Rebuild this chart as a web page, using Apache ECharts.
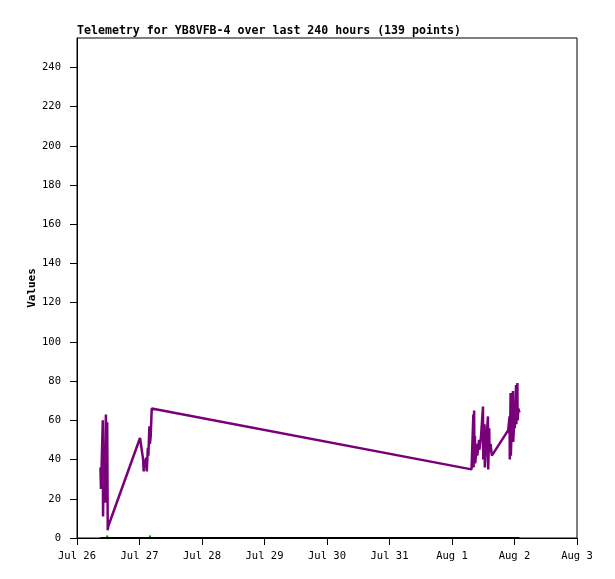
<!DOCTYPE html>
<html>
<head>
<meta charset="utf-8">
<script src="https://cdn.jsdelivr.net/npm/echarts@6/dist/echarts.min.js"></script>
<style>
  html, body { margin: 0; padding: 0; background: #fff; }
  #chart { width: 615px; height: 579px; }
</style>
</head>
<body>
<div id="chart"></div>
<script>
const titleText = "Telemetry for YB8VFB-4 over last 240 hours (139 points)";
const monthNames = ["Jan", "Feb", "Mar", "Apr", "May", "Jun", "Jul", "Aug", "Sep", "Oct", "Nov", "Dec"];

// x axis span (one tick per day)
const xStart = "2024-07-26 00:00";
const xEnd = "2024-08-03 00:00";
const yTicks = [0, 20, 40, 60, 80, 100, 120, 140, 160, 180, 200, 220, 240];

// purple telemetry channel
const purpleTimes = [
  "2024-07-26 09:00", "2024-07-26 09:12", "2024-07-26 09:24", "2024-07-26 09:54",
  "2024-07-26 10:00", "2024-07-26 10:24", "2024-07-26 10:30", "2024-07-26 11:06",
  "2024-07-26 11:12", "2024-07-26 11:36", "2024-07-26 11:48", "2024-07-26 12:00",
  "2024-07-27 00:12", "2024-07-27 00:48", "2024-07-27 01:24", "2024-07-27 01:36",
  "2024-07-27 02:00", "2024-07-27 02:12", "2024-07-27 02:36", "2024-07-27 02:48",
  "2024-07-27 03:12", "2024-07-27 03:24", "2024-07-27 03:48", "2024-07-27 04:00",
  "2024-07-27 04:18", "2024-07-27 04:42",
  "2024-08-01 07:30", "2024-08-01 08:12", "2024-08-01 08:18", "2024-08-01 08:30",
  "2024-08-01 08:36", "2024-08-01 08:48", "2024-08-01 08:54", "2024-08-01 09:36",
  "2024-08-01 09:42", "2024-08-01 10:24", "2024-08-01 10:30", "2024-08-01 11:06",
  "2024-08-01 11:12", "2024-08-01 11:54", "2024-08-01 12:00", "2024-08-01 12:30",
  "2024-08-01 12:36", "2024-08-01 13:48", "2024-08-01 13:54", "2024-08-01 14:18",
  "2024-08-01 14:24", "2024-08-01 14:48", "2024-08-01 15:18",
  "2024-08-01 21:36", "2024-08-01 22:06", "2024-08-01 22:12", "2024-08-01 22:30",
  "2024-08-01 22:36", "2024-08-01 23:00", "2024-08-01 23:06", "2024-08-01 23:24",
  "2024-08-01 23:30", "2024-08-02 00:00", "2024-08-02 00:06", "2024-08-02 00:36",
  "2024-08-02 00:42", "2024-08-02 01:06", "2024-08-02 01:12", "2024-08-02 01:30",
  "2024-08-02 01:54",
];
const purpleValues = [
  36, 25, 34, 60,
  11, 46, 18, 63,
  18, 59, 4, 6,
  51, 50, 40, 34,
  40, 38, 41, 34,
  46, 42, 57, 48,
  52, 66,
  35, 63, 36, 65,
  40, 52, 38, 48,
  42, 50, 45, 51,
  50, 67, 40, 58,
  36, 62, 35, 56,
  44, 48, 42,
  55, 62, 40, 74,
  42, 60, 52, 75,
  49, 62, 56, 78,
  58, 79, 60, 66,
  64,
];

// black channel sits at zero over the whole span
const blackTimes = ["2024-07-26 09:00", "2024-08-02 01:54"];
const blackValues = [0, 0];

// green channel, only a couple of pixels peek out above the black one
const greenTimes = ["2024-07-26 11:36", "2024-07-27 04:00"];
const greenValues = [0.8, 0.8];

const FONT = "DejaVu Sans Mono";
const DAY = 86400000;
const toTs = s => Date.parse(s.replace(" ", "T") + ":00Z");
const pairs = (times, values) => times.map((t, i) => [toTs(t), values[i]]);

const chart = echarts.init(document.getElementById("chart"), null, { renderer: "canvas" });
chart.setOption({
  animation: false,
  backgroundColor: "#fff",
  title: {
    text: titleText,
    left: 72,
    top: 20,
    textStyle: { fontFamily: FONT, fontSize: 11.6, fontWeight: "bold", color: "#000" },
  },
  grid: {
    left: 77, right: 38, top: 38, bottom: 41,
    show: true, borderColor: "#000", borderWidth: 1, backgroundColor: "transparent",
  },
  xAxis: {
    type: "value",
    min: toTs(xStart),
    max: toTs(xEnd),
    interval: DAY,
    splitLine: { show: false },
    axisLine: { lineStyle: { color: "#000", width: 1 } },
    axisTick: { show: true, length: 7, inside: false, lineStyle: { color: "#000" } },
    axisLabel: {
      margin: 13,
      fontFamily: FONT, fontSize: 10.5, color: "#000",
      formatter: v => {
        const d = new Date(v);
        return monthNames[d.getUTCMonth()] + " " + d.getUTCDate();
      },
    },
  },
  yAxis: {
    type: "value",
    min: 0,
    max: 255,
    name: "Values",
    nameLocation: "middle",
    nameGap: 39,
    nameMoveOverlap: false,
    nameTextStyle: { fontFamily: FONT, fontSize: 11, fontWeight: "bold", color: "#000" },
    splitLine: { show: false },
    axisLine: { show: true, lineStyle: { color: "#000", width: 1 } },
    axisTick: {
      show: true, length: 7, inside: false,
      lineStyle: { color: "#000" },
      customValues: yTicks,
    },
    axisLabel: {
      margin: 16,
      fontFamily: FONT, fontSize: 10.5, color: "#000",
      customValues: yTicks,
    },
  },
  series: [
    {
      name: "green",
      type: "line",
      data: pairs(greenTimes, greenValues),
      symbol: "rect",
      symbolSize: 2,
      showSymbol: true,
      lineStyle: { width: 0 },
      itemStyle: { color: "#00a000" },
      z: 1,
    },
    {
      name: "black",
      type: "line",
      data: pairs(blackTimes, blackValues),
      showSymbol: false,
      lineStyle: { color: "#000", width: 2 },
      z: 2,
    },
    {
      name: "purple",
      type: "line",
      data: pairs(purpleTimes, purpleValues),
      showSymbol: false,
      lineStyle: { color: "#780078", width: 2.5 },
      z: 3,
    },
  ],
});
</script>
</body>
</html>
